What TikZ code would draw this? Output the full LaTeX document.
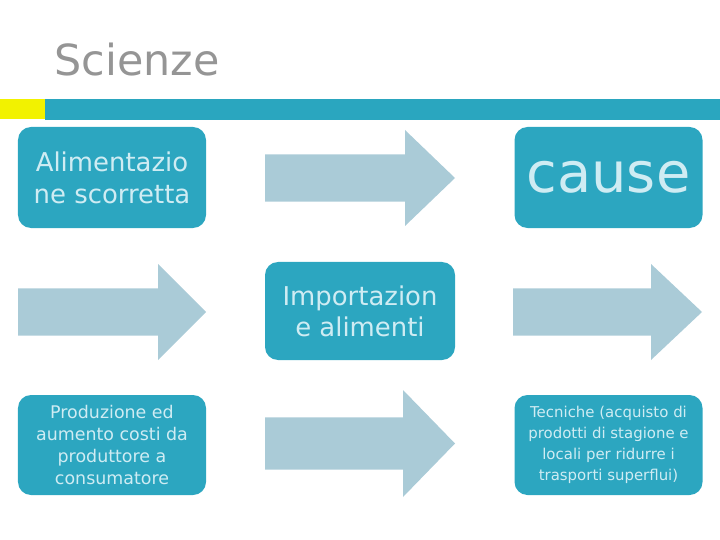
\documentclass[tikz,border=0pt]{standalone}
\usepackage{fontspec}
\setmainfont{DejaVu Sans}
\definecolor{barteal}{HTML}{2AA6BF}
\definecolor{boxteal}{HTML}{2CA6C0}
\definecolor{boxtext}{HTML}{CFECF3}
\definecolor{arrowfill}{HTML}{AACBD7}
\definecolor{titlegray}{HTML}{959595}
\definecolor{baryellow}{HTML}{F2F200}
\tikzset{
  bx/.style={fill=boxteal, rounded corners=13bp, text=boxtext, align=center,
    inner sep=0pt},
  arr/.style={fill=arrowfill},
}
% arrow: #1 left x, #2 top y, #3 right x, #4 bottom y, #5 head start x, #6 name
\newcommand\blockarrow[6]{%
  \pgfmathsetmacro\mid{(#2+#4)/2}%
  \pgfmathsetmacro\hh{(#4-#2)*0.245}%
  \fill[arr] (#1,\mid-\hh) -- (#5,\mid-\hh) -- (#5,#2) -- (#3,\mid) -- (#5,#4) -- (#5,\mid+\hh) -- (#1,\mid+\hh) -- cycle;
  \coordinate (#6) at ({(#1+#3)/2},\mid);
}
\begin{document}
\begin{tikzpicture}[x=1bp,y=-1bp]
\useasboundingbox (0,0) rectangle (720,540);
% title
\node[anchor=west, text=titlegray, font=\fontsize{43}{50}\selectfont] (title) at (51,60) {Scienze};
% bar
\fill[barteal] (45,99) rectangle (720,120);
\fill[baryellow] (0,99) rectangle (45,119);
% row 1
\node[bx, minimum width=188bp, minimum height=101bp, font=\fontsize{26}{32}\selectfont] (b1) at (112,177.5) {Alimentazio\\ne scorretta};
\blockarrow{265}{130}{455}{226}{405}{a1}
\node[bx, minimum width=188bp, minimum height=101bp, font=\fontsize{56}{60}\selectfont] (b2) at (608.5,177.5) {cause};
% row 2
\blockarrow{18}{264}{206}{360}{158}{a2}
\node[bx, minimum width=190bp, minimum height=98bp, font=\fontsize{26}{31}\selectfont] (b3) at (360,311) {Importazion\\e alimenti};
\blockarrow{513}{264}{702}{360}{651}{a3}
% row 3
\node[bx, minimum width=188bp, minimum height=100bp, font=\fontsize{17.5}{22}\selectfont] (b4) at (112,445) {Produzione ed\\aumento costi da\\produttore a\\consumatore};
\blockarrow{265}{390}{455}{497}{403}{a4}
\node[bx, minimum width=188bp, minimum height=100bp, font=\fontsize{15}{21}\selectfont] (b5) at (608.5,445) {Tecniche (acquisto di\\prodotti di stagione e\\locali per ridurre i\\trasporti superflui)};
\end{tikzpicture}
\end{document}
